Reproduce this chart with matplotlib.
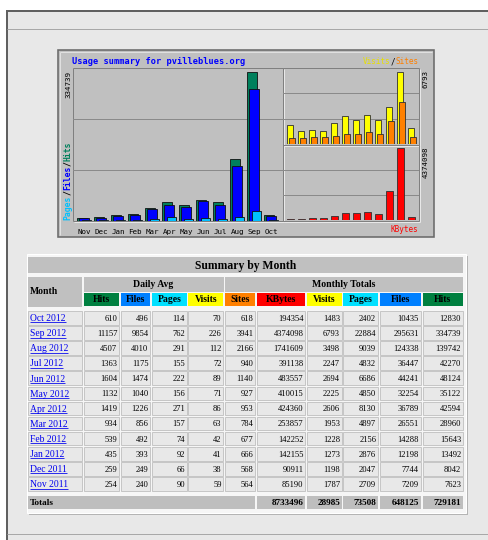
import matplotlib
matplotlib.use('Agg')
import matplotlib.pyplot as plt
from matplotlib.patches import Rectangle

# ---------------- data (chronological: Nov 2011 -> Oct 2012) ----------------
months_short = ['Nov', 'Dec', 'Jan', 'Feb', 'Mar', 'Apr', 'May', 'Jun', 'Jul', 'Aug', 'Sep', 'Oct']
month_labels = ['Nov 2011', 'Dec 2011', 'Jan 2012', 'Feb 2012', 'Mar 2012', 'Apr 2012',
                'May 2012', 'Jun 2012', 'Jul 2012', 'Aug 2012', 'Sep 2012', 'Oct 2012']

hits_total = [7623, 8042, 13492, 15643, 28960, 42594, 35122, 48124, 42270, 139742, 334739, 12830]
files_total = [7209, 7744, 12198, 14288, 26551, 36789, 32254, 44241, 36447, 124338, 295631, 10435]
pages_total = [2709, 2047, 2876, 2156, 4897, 8130, 4850, 6686, 4832, 9039, 22884, 2402]
visits_total = [1787, 1198, 1273, 1228, 1953, 2606, 2225, 2694, 2247, 3498, 6793, 1483]
sites_total = [564, 568, 666, 677, 784, 953, 927, 1140, 940, 2166, 3941, 618]
kbytes_total = [85190, 90911, 142155, 142252, 253857, 424360, 410015, 483557, 391138,
                1741609, 4374098, 194354]

hits_day = [254, 259, 435, 539, 934, 1419, 1132, 1604, 1363, 4507, 11157, 610]
files_day = [240, 249, 393, 492, 856, 1226, 1040, 1474, 1175, 4010, 9854, 496]
pages_day = [90, 66, 92, 74, 157, 271, 156, 222, 155, 291, 762, 114]
visits_day = [59, 38, 41, 42, 63, 86, 71, 89, 72, 112, 226, 70]

totals = {'KBytes': 8733496, 'Visits': 28985, 'Pages': 73508, 'Files': 648125, 'Hits': 729181}

# colours
C_HITS, C_FILES, C_PAGES = '#00805c', '#0000ff', '#00c0ff'
C_VISITS, C_SITES, C_KB = '#ffff00', '#ff8000', '#ff0000'
H_HITS, H_FILES, H_PAGES = '#008040', '#0080ff', '#00e0ff'

W, H = 488, 540
PX = 72.0 / 100.0  # points per pixel

fig = plt.figure(figsize=(W / 100, H / 100), dpi=100)
fig.patch.set_facecolor('white')
bg = fig.add_axes([0, 0, 1, 1])
bg.set_xlim(0, W)
bg.set_ylim(H, 0)
bg.axis('off')


def rect(x0, y0, x1, y1, fc, ec='none', lw=0, z=1):
    bg.add_patch(Rectangle((x0, y0), x1 - x0, y1 - y0, facecolor=fc, edgecolor=ec,
                           linewidth=lw * PX, zorder=z))


def line(xs, ys, c, lw=1, z=3):
    bg.plot(xs, ys, color=c, lw=lw * PX, zorder=z, solid_capstyle='butt')


def pax(x0, y0, x1, y1):
    return fig.add_axes([x0 / W, 1 - y1 / H, (x1 - x0) / W, (y1 - y0) / H])


# ---------------- page frame ----------------
rect(6, 10, W + 2, H + 2, '#e8e8e8', z=0.5)
line([6, W], [11, 11], '#606060', lw=2)
line([6.5, 6.5], [10, H], '#606060', lw=2)
line([7, W], [29, 29], '#a8a8a8', lw=1)
line([7, W], [534, 534], '#a8a8a8', lw=1)

# ---------------- chart box ----------------
rect(58, 50, 434, 237, '#c0c0c0', ec='#6a6a6a', lw=1.6, z=1)
line([60, 432], [52, 52], '#e0e0e0', lw=1, z=1.5)
line([60, 60], [52, 235], '#e0e0e0', lw=1, z=1.5)

# panel borders
for (x0, y0, x1, y1) in [(73, 68, 283, 221), (283, 68, 419, 145), (283, 145, 419, 221)]:
    line([x0, x1], [y0, y0], '#808080', lw=1, z=1.6)
    line([x0, x0], [y0, y1], '#808080', lw=1, z=1.6)
    line([x0 + 1, x1 + 1], [y1 + 1, y1 + 1], '#e8e8e8', lw=1, z=1.6)
    line([x1 + 1, x1 + 1], [y0 + 1, y1 + 1], '#e8e8e8', lw=1, z=1.6)
    line([x0, x1], [y1, y1], '#808080', lw=1, z=1.6)
    line([x1, x1], [y0, y1], '#808080', lw=1, z=1.6)

MONO = 'DejaVu Sans Mono'
n = len(months_short)
idx = list(range(n))


def style_panel(ax, top):
    ax.set_facecolor('none')
    for s in ax.spines.values():
        s.set_visible(False)
    ax.set_ylim(0, top)
    ax.set_yticks([top / 3, 2 * top / 3])
    ax.yaxis.grid(True, color='#8a8a8a', lw=1 * PX)
    ax.set_axisbelow(True)
    ax.tick_params(left=False, labelleft=False, bottom=False, labelbottom=False)


# left panel: hits / files / pages
axL = pax(73, 68, 283, 221)
p = 17.0
axL.set_xlim(-(76.7 - 73) / p, (283 - 76.7) / p)
style_panel(axL, 343700)
axL.bar(idx, hits_total, width=10.5 / p, align='edge', color=C_HITS, edgecolor='#101010', lw=0.6, zorder=3)
axL.bar([i + 2.2 / p for i in idx], files_total, width=10.5 / p, align='edge', color=C_FILES,
        edgecolor='#101010', lw=0.6, zorder=4)
axL.bar([i + 5.2 / p for i in idx], pages_total, width=9.0 / p, align='edge', color=C_PAGES,
        edgecolor='#101010', lw=0.6, zorder=5)
axL.set_xticks([i + 7.6 / p for i in idx])
axL.set_xticklabels(months_short, family=MONO, size=5.4, color='#000000')
axL.tick_params(bottom=False, labelbottom=True, pad=2.6)

# right top: visits / sites
pr = 11.0
axV = pax(283, 68, 419, 144)
axV.set_xlim(-(286.7 - 283) / pr, (419 - 286.7) / pr)
style_panel(axV, 7140)
axV.bar(idx, visits_total, width=6.2 / pr, align='edge', color=C_VISITS, edgecolor='#303030', lw=0.6, zorder=3)
axV.bar([i + 2.6 / pr for i in idx], sites_total, width=6.0 / pr, align='edge', color=C_SITES,
        edgecolor='#303030', lw=0.6, zorder=4)

# right bottom: kbytes
axK = pax(283, 145, 419, 220)
axK.set_xlim(-(286.7 - 283) / pr, (419 - 286.7) / pr)
style_panel(axK, 4575000)
axK.bar(idx, kbytes_total, width=7.2 / pr, align='edge', color=C_KB, edgecolor='#303030', lw=0.6, zorder=3)

# chart texts
bg.text(72.3, 61, 'Usage summary for pvilleblues.org', color='#0000ff', family=MONO,
        size=6.2, weight='bold', ha='left', va='center', zorder=5)


def mono_pieces(pieces, size, x, y, vertical=False, weight='normal'):
    cw = size / 72 * 100 * 0.602
    k = 0
    for txt, col in pieces:
        if vertical:
            bg.text(x, y - k * cw, txt, color=col, family=MONO, size=size, weight=weight,
                    rotation=90, ha='center', va='bottom', zorder=5)
        else:
            bg.text(x + k * cw, y, txt, color=col, family=MONO, size=size, weight=weight,
                    ha='left', va='center', zorder=5)
        k += len(txt)
    return k * cw


vs = [('Visits', '#e8e000'), ('/', '#000000'), ('Sites', '#ff8000')]
cw55 = 5.5 / 72 * 100 * 0.602
mono_pieces(vs, 5.5, 418 - 12 * cw55, 62)
bg.text(418, 229.5, 'KBytes', color='#ff0000', family=MONO, size=5.5, ha='right', va='center', zorder=5)
mono_pieces([('Pages', C_PAGES), ('/', '#000000'), ('Files', '#0000ff'), ('/', '#000000'),
             ('Hits', C_HITS)], 5.9, 68, 220, vertical=True, weight='bold')
bg.text(68, 71, f'{max(hits_total)}', rotation=90, family=MONO, size=5.4, ha='center', va='top', zorder=5)
bg.text(425.5, 70, f'{max(visits_total)}', rotation=90, family=MONO, size=5.4, ha='center', va='top', zorder=5)
bg.text(425.5, 147, f'{max(kbytes_total)}', rotation=90, family=MONO, size=5.4, ha='center', va='top', zorder=5)

# ---------------- table ----------------
SERIF = 'Liberation Serif'
rect(28.5, 256, 468, 515, '#b4b4b4', z=1)
rect(26.5, 254, 466, 513, '#f6f6f6', ec='#ffffff', lw=1, z=1.1)

HDR = '#c0c0c0'
rect(28, 257, 463, 273, HDR, z=2)
bg.text(245.5, 265.5, 'Summary by Month', family=SERIF, weight='bold', size=8.4,
        ha='center', va='center', zorder=5)

rect(28, 277, 82, 307, HDR, z=2)
bg.text(30, 292, 'Month', family=SERIF, weight='bold', size=6.9, ha='left', va='center', zorder=5)
rect(83.5, 277, 223.5, 291.5, HDR, z=2)
bg.text(153.5, 284.5, 'Daily Avg', family=SERIF, weight='bold', size=7.0, ha='center', va='center', zorder=5)
rect(225, 277, 463, 291.5, HDR, z=2)
bg.text(344, 284.5, 'Monthly Totals', family=SERIF, weight='bold', size=7.0, ha='center', va='center', zorder=5)

cols_daily = [(83.5, 119.3), (120.5, 150.3), (151.7, 186.8), (188.3, 223.4)]
cols_total = [(225, 255.3), (257, 305.2), (306.7, 341.8), (343.3, 378), (379.7, 420.8), (422.6, 463)]
hdr_daily = [('Hits', H_HITS), ('Files', H_FILES), ('Pages', H_PAGES), ('Visits', C_VISITS)]
hdr_total = [('Sites', C_SITES), ('KBytes', C_KB), ('Visits', C_VISITS), ('Pages', H_PAGES),
             ('Files', H_FILES), ('Hits', H_HITS)]
for (x0, x1), (lab, col) in zip(cols_daily + cols_total, hdr_daily + hdr_total):
    rect(x0, 293, x1, 306, col, z=2)
    bg.text((x0 + x1) / 2, 299.7, lab, family=SERIF, weight='bold', size=7.0,
            ha='center', va='center', zorder=5)

CELL = '#e8e8e8'
EDGE = '#c6c6c6'
rows = list(reversed(range(n)))  # Oct 2012 first
daily_series = [hits_day, files_day, pages_day, visits_day]
total_series = [sites_total, kbytes_total, visits_total, pages_total, files_total, hits_total]
pitch = 15.1
renderer = fig.canvas.get_renderer()
inv = bg.transData.inverted()
for r, m in enumerate(rows):
    top = 311 + pitch * r
    bot = top + 13.6
    cy = (top + bot) / 2
    rect(28, top, 82, bot, CELL, ec=EDGE, lw=1, z=2)
    t = bg.text(30, cy + 3.3, month_labels[m], family=SERIF, size=6.9, color='#0000ee',
                ha='left', va='baseline', zorder=5)
    bb = t.get_window_extent(renderer=renderer)
    (ax0, _), (ax1, _) = inv.transform([(bb.x0, 0), (bb.x1, 0)])
    line([ax0, ax1], [cy + 4.6, cy + 4.6], '#0000ee', lw=0.8, z=5)
    for (x0, x1), ser in zip(cols_daily + cols_total, daily_series + total_series):
        rect(x0, top, x1, bot, CELL, ec=EDGE, lw=1, z=2)
        bg.text(x1 - 1.8, cy + 3.0, f'{ser[m]}', family=SERIF, size=6.1, ha='right',
                va='baseline', zorder=5)

# totals row
ty0, ty1 = 495.5, 508.5
tcy = (ty0 + ty1) / 2
rect(28, ty0, 255.3, ty1, '#bebebe', z=2)
bg.text(30, tcy + 3.1, 'Totals', family=SERIF, weight='bold', size=6.7, ha='left', va='baseline', zorder=5)
for (x0, x1), lab in zip(cols_total[1:], ['KBytes', 'Visits', 'Pages', 'Files', 'Hits']):
    rect(x0, ty0, x1, ty1, '#bebebe', z=2)
    bg.text(x1 - 1.8, tcy + 3.1, f'{totals[lab]}', family=SERIF, weight='bold', size=6.6,
            ha='right', va='baseline', zorder=5)

fig.savefig('out.png', dpi=100)
